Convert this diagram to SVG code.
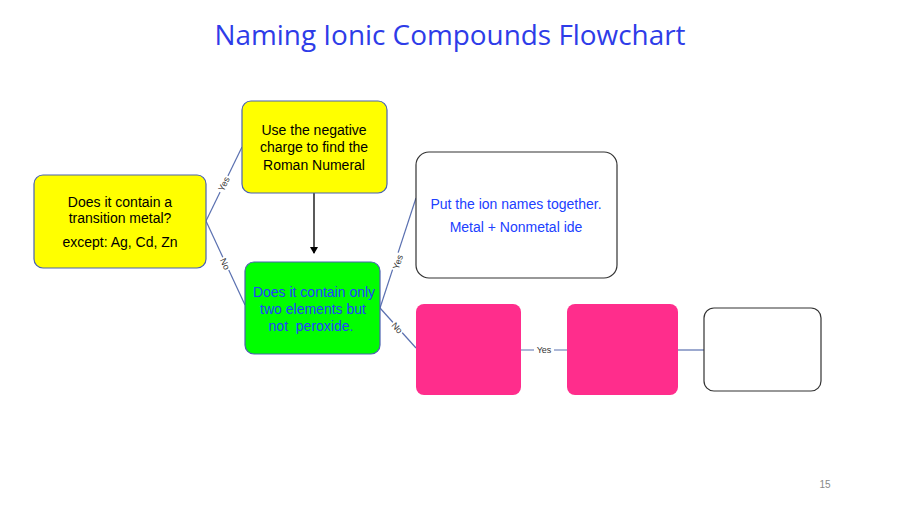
<svg xmlns="http://www.w3.org/2000/svg" width="900" height="506" viewBox="0 0 900 506">
<style>
text{font-family:"Liberation Sans",Arial,sans-serif}
.t{font-size:14px;fill:#000;text-anchor:middle}
.b{font-size:14px;fill:#2040ff;text-anchor:middle}
.c{stroke:#5a70b0;stroke-width:1.2;fill:none}
.lb{font-size:9px;fill:#333;text-anchor:middle;dominant-baseline:central}
.yel{fill:#ffff00;stroke:#4a62b0;stroke-width:1.2}
.pink{fill:#ff2d8c}
.wht{fill:#fff;stroke:#333;stroke-width:1.2}
</style>
<defs>
<marker id="ah" markerWidth="8" markerHeight="8" refX="6" refY="4" orient="auto" markerUnits="userSpaceOnUse">
<path d="M0,0 L7,4 L0,8 Z" fill="#000"/>
</marker>
</defs>
<rect width="900" height="506" fill="#fff"/>
<text x="450" y="45" font-size="28" fill="#2e3ce8" text-anchor="middle" style="font-family:'Open Sans','Liberation Sans',sans-serif" textLength="471" lengthAdjust="spacingAndGlyphs">Naming Ionic Compounds Flowchart</text>
<g id="connectors">
<line class="c" x1="206" y1="221" x2="242" y2="147"/>
<line class="c" x1="206" y1="221" x2="245" y2="305"/>
<line class="c" x1="380" y1="308" x2="416" y2="198"/>
<line class="c" x1="380" y1="308" x2="416" y2="348"/>
<line class="c" x1="521" y1="350" x2="567" y2="350"/>
<line class="c" x1="677" y1="350" x2="704" y2="350"/>
<line x1="314" y1="193" x2="314" y2="253" stroke="#000" stroke-width="1.3" marker-end="url(#ah)"/>
<g transform="translate(224,184) rotate(-64)"><rect x="-9" y="-5" width="18" height="10" fill="#fff"/><text class="lb">Yes</text></g>
<g transform="translate(225,264) rotate(65)"><rect x="-7" y="-5" width="14" height="10" fill="#fff"/><text class="lb">No</text></g>
<g transform="translate(398,262) rotate(-72)"><rect x="-9" y="-5" width="18" height="10" fill="#fff"/><text class="lb">Yes</text></g>
<g transform="translate(397,328) rotate(48)"><rect x="-7" y="-5" width="14" height="10" fill="#fff"/><text class="lb">No</text></g>
<g transform="translate(544,350)"><rect x="-10" y="-5" width="20" height="10" fill="#fff"/><text class="lb">Yes</text></g>
</g>
<g id="n1">
<rect class="yel" x="34" y="175" width="172" height="93" rx="9"/>
<text class="t" x="120" y="207">Does it contain a</text>
<text class="t" x="120" y="223">transition metal?</text>
<text class="t" x="120" y="247">except: Ag, Cd, Zn</text>
</g>
<g id="n2">
<rect class="yel" x="242" y="101" width="145" height="92" rx="9"/>
<text class="t" x="314" y="135">Use the negative</text>
<text class="t" x="314" y="152">charge to find the</text>
<text class="t" x="314" y="170">Roman Numeral</text>
</g>
<g id="n3">
<rect x="245" y="262" width="135" height="92" rx="9" fill="#00ff00" stroke="#4a62b0" stroke-width="1.2"/>
<text class="b" x="314" y="297">Does it contain only</text>
<text class="b" x="313" y="314">two elements but</text>
<text class="b" x="311" y="331" style="white-space:pre">not  peroxide.</text>
</g>
<g id="n4">
<rect class="wht" x="416" y="152" width="201" height="126" rx="13"/>
<text class="b" x="516" y="209">Put the ion names together.</text>
<text class="b" x="516" y="232">Metal + Nonmetal ide</text>
</g>
<g id="n5"><rect class="pink" x="416" y="304" width="105" height="91" rx="8"/></g>
<g id="n6"><rect class="pink" x="567" y="304" width="111" height="91" rx="8"/></g>
<g id="n7"><rect class="wht" x="704" y="308" width="117" height="83" rx="10"/></g>
<text x="825" y="488" font-size="10" fill="#888" text-anchor="middle">15</text>
</svg>
